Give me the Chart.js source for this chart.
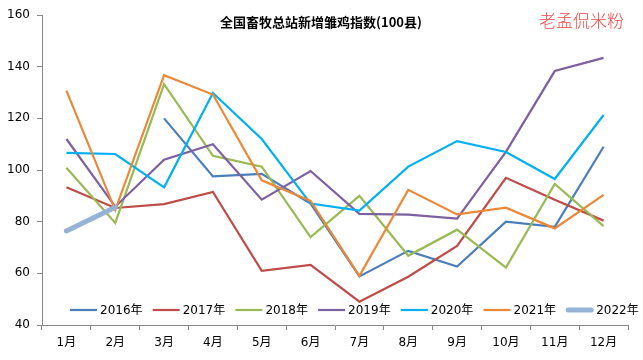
<!DOCTYPE html>
<html lang="zh">
<head>
  <meta charset="UTF-8">
  <title>全国畜牧总站新增雏鸡指数</title>
  <script src="https://cdn.jsdelivr.net/npm/chart.js"></script>
  <style>
    html, body { margin: 0; padding: 0; background: #fff; }
    #wrap { width: 643px; height: 360px; }
  </style>
</head>
<body>
  <div id="wrap"><canvas id="chickChart"></canvas></div>

  <script>
    const months = ['1月', '2月', '3月', '4月', '5月', '6月', '7月', '8月', '9月', '10月', '11月', '12月'];
    const y2016 = [null, null, 120, 97.5, 98.5, 87, 58.8, 68.7, 62.6, 80, 78, 109];
    const y2017 = [93.3, 85.3, 86.8, 91.5, 61, 63.3, 49, 58.7, 70.6, 97, 88.5, 80.4];
    const y2018 = [100.9, 79.5, 133.2, 105.5, 101.3, 74, 90, 66.8, 76.9, 62.2, 94.6, 78.3];
    const y2019 = [112, 85.8, 104, 110, 88.5, 99.6, 83, 82.7, 81.2, 107, 138.3, 143.4];
    const y2020 = [106.6, 106.2, 93.3, 129.8, 112, 87, 84.3, 101.3, 111.2, 107, 96.5, 121.3];
    const y2021 = [130.7, 84.5, 136.7, 129.2, 96, 88, 59, 92.3, 82.8, 85.4, 77.4, 90.4];
    const y2022 = [76.4, 85.6];
    const seriesNames = ['2016年', '2017年', '2018年', '2019年', '2020年', '2021年', '2022年'];
    const yTicks = [40, 60, 80, 100, 120, 140, 160];

    const colors = ['#4A7EBB', '#BE4B48', '#98B954', '#7D60A0', '#00B0F0', '#EB8838', '#95B3D7'];
    const widths = [2.2, 2.2, 2.2, 2.2, 2.2, 2.2, 5];
    const allSeries = [y2016, y2017, y2018, y2019, y2020, y2021, y2022];

    const datasets = allSeries.map((vals, i) => ({
      label: seriesNames[i],
      data: vals,
      borderColor: colors[i],
      backgroundColor: colors[i],
      borderWidth: widths[i],
      pointRadius: 0,
      tension: 0,
      spanGaps: false,
      borderCapStyle: i === 6 ? 'round' : 'butt',
      order: allSeries.length - i   // later series drawn on top, like Excel
    }));

    // title, watermark and the in-plot legend
    const decorations = {
      id: 'decorations',
      afterDraw(chart) {
        const ctx = chart.ctx;
        ctx.save();
        ctx.textBaseline = 'middle';

        ctx.fillStyle = '#000';
        ctx.textAlign = 'center';
        ctx.font = 'bold 13px "Noto Sans CJK SC", "DejaVu Sans", sans-serif';
        ctx.fillText('全国畜牧总站新增雏鸡指数(100县)', 321, 22);

        ctx.fillStyle = '#F04848';
        ctx.textAlign = 'left';
        ctx.font = '300 17px "Noto Sans CJK SC", sans-serif';
        ctx.fillText('老孟侃米粉', 539, 21);

        ctx.font = '12px "DejaVu Sans", "Noto Sans CJK SC", sans-serif';
        ctx.fillStyle = '#000';
        let x = 70;
        const ly = 310;
        chart.data.datasets.forEach((ds) => {
          ctx.strokeStyle = ds.borderColor;
          ctx.lineWidth = ds.borderWidth;
          ctx.lineCap = ds.borderWidth > 3 ? 'round' : 'butt';
          ctx.beginPath();
          ctx.moveTo(x + (ds.borderWidth > 3 ? 2 : 0), ly);
          ctx.lineTo(x + 27 - (ds.borderWidth > 3 ? 2 : 0), ly);
          ctx.stroke();
          ctx.fillText(ds.label, x + 30, ly + 1);
          x += 82.7;
        });
        ctx.restore();
      }
    };

    new Chart(document.getElementById('chickChart'), {
      type: 'line',
      data: { labels: months, datasets: datasets },
      plugins: [decorations],
      options: {
        responsive: true,
        maintainAspectRatio: false,
        animation: false,
        layout: { padding: { top: 15, right: 15, left: 0, bottom: 0 } },
        plugins: {
          legend: { display: false },
          title: { display: false },
          tooltip: { enabled: false }
        },
        scales: {
          x: {
            offset: true,
            afterFit: (s) => { s.height = 35; },
            grid: {
              offset: true,
              drawOnChartArea: false,
              tickLength: 5,
              color: '#868686'
            },
            border: { color: '#868686', width: 1 },
            ticks: {
              color: '#000',
              padding: 6,
              maxRotation: 0,
              autoSkip: false,
              font: { family: '"DejaVu Sans", "Noto Sans CJK SC", sans-serif', size: 12 }
            }
          },
          y: {
            min: 40,
            max: 160,
            afterFit: (s) => { s.width = 42; },
            afterBuildTicks: (s) => { s.ticks = yTicks.map(v => ({ value: v })); },
            grid: {
              drawOnChartArea: false,
              tickLength: 5,
              color: '#868686'
            },
            border: { color: '#868686', width: 1 },
            ticks: {
              color: '#000',
              padding: 7,
              font: { family: '"DejaVu Sans", sans-serif', size: 12 }
            }
          }
        }
      }
    });
  </script>
</body>
</html>
